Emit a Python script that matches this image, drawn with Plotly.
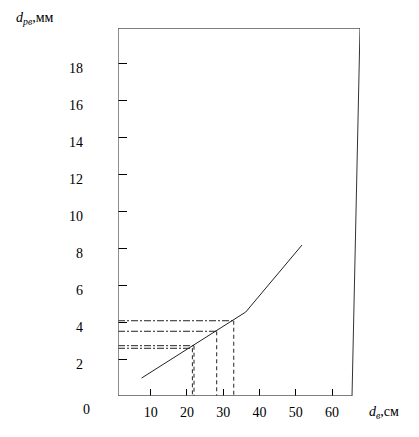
import plotly.graph_objects as go

# data
curve_x = [7.5, 36.2, 51.7]
curve_y = [0.97, 4.54, 8.16]
ref_x = [21.5, 21.95, 28.2, 32.9]
ref_y = [2.58, 2.72, 3.5, 4.07]
x_ticks = [10, 20, 30, 40, 50, 60]
y_ticks = [2, 4, 6, 8, 10, 12, 14, 16, 18]

X0, XTOP, XBOT, YTOP = 1.0, 67.7, 65.5, 19.9
FONT = "Liberation Serif"

fig = go.Figure()
fig.add_trace(go.Scatter(x=curve_x, y=curve_y, mode="lines",
                         line=dict(color="#222", width=1), showlegend=False))
for rx, ry in zip(ref_x, ref_y):
    fig.add_trace(go.Scatter(x=[X0, rx], y=[ry, ry], mode="lines",
                             line=dict(color="#222", width=1, dash="7px,2px,2px,2px"), showlegend=False))
    fig.add_trace(go.Scatter(x=[rx, rx], y=[ry, 0], mode="lines",
                             line=dict(color="#222", width=1, dash="4px,3px"), showlegend=False))

shapes = [
    dict(type="line", x0=X0, y0=YTOP, x1=XTOP, y1=YTOP, line=dict(color="black", width=1)),
    dict(type="line", x0=XTOP, y0=YTOP, x1=XBOT, y1=0, line=dict(color="#333", width=1)),
    dict(type="line", x0=X0, y0=0, x1=XBOT, y1=0, line=dict(color="#555", width=1.5)),
    dict(type="line", x0=X0, y0=0, x1=X0, y1=YTOP, line=dict(color="#666", width=1.5)),
]

fig.update_layout(
    width=419, height=437,
    margin=dict(l=118, r=59, t=28, b=41),
    paper_bgcolor="white", plot_bgcolor="white",
    font=dict(family=FONT, size=14, color="black"),
    shapes=shapes,
    xaxis=dict(range=[X0, XTOP], tickvals=x_ticks, ticktext=[str(v) for v in x_ticks],
               ticks="inside", ticklen=7, tickcolor="black", tickwidth=1,
               showgrid=False, zeroline=False, showline=False,
               ticklabelstandoff=6),
    yaxis=dict(range=[0, YTOP], tickvals=y_ticks, ticktext=[str(v) for v in y_ticks],
               ticks="inside", ticklen=9, tickcolor="black", tickwidth=1,
               showgrid=False, zeroline=False, showline=False,
               ticklabelstandoff=34, ticklabelshift=5),
    annotations=[
        dict(text="0", x=-0.132, y=-0.038, xref="paper", yref="paper", showarrow=False,
             xanchor="center", yanchor="middle", font=dict(family=FONT, size=14)),
        dict(text="<i>d</i><sub><i>рв</i></sub>,мм", x=-0.343, y=1.027, xref="paper", yref="paper",
             xanchor="center", yanchor="middle",
             showarrow=False, font=dict(family=FONT, size=14)),
        dict(text="<i>d</i><sub><i>в</i></sub>,см", x=1.099, y=-0.046, xref="paper", yref="paper",
             xanchor="center", yanchor="middle",
             showarrow=False, font=dict(family=FONT, size=14)),
    ],
)
fig.write_html("out.html", config={"displayModeBar": False},
               post_script="document.body.style.margin='0';")
